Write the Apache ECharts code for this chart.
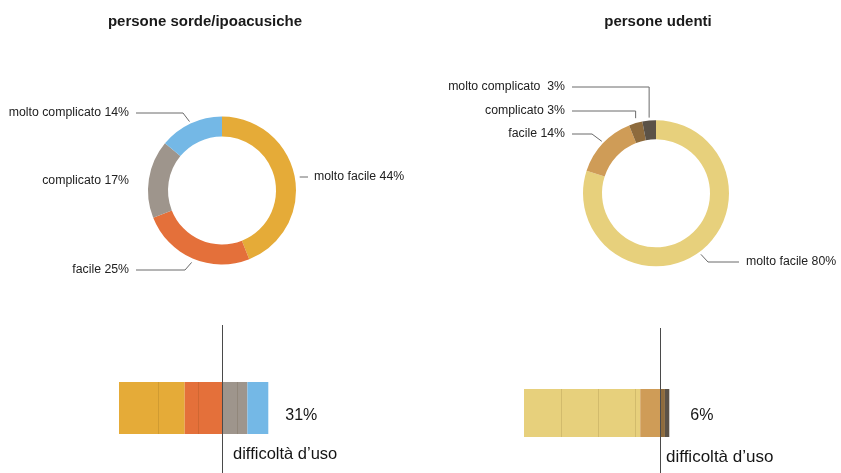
<!DOCTYPE html>
<html><head><meta charset="utf-8">
<script src="https://cdn.jsdelivr.net/npm/echarts@6/dist/echarts.min.js"></script>
<style>html,body{margin:0;padding:0;background:#fff}#c{width:841px;height:473px}</style>
</head><body><div id="c"></div>
<script>
// ---- data ----
const categories = ['molto facile', 'facile', 'complicato', 'molto complicato'];
const deafValues = [44, 25, 17, 14];
const hearingValues = [80, 14, 3, 3];
const deafLabels = ['molto facile 44%', 'facile 25%', 'complicato 17%', 'molto complicato 14%'];
const hearingLabels = ['molto facile 80%', 'facile 14%', 'complicato 3%', 'molto complicato  3%'];
const groupTitles = ['persone sorde/ipoacusiche', 'persone udenti'];
const difficultyLabel = 'difficoltà d’uso';
const deafGridInterval = 26.5;
const hearingGridInterval = 25.5;

// ---- styles ----
const FONT = "'Liberation Sans', Arial, sans-serif";
const deafColors = ['#E5AB38', '#E4703A', '#9E958C', '#74B8E6'];
const hearingColors = ['#E7D07C', '#CF9C57', '#8E6B3D', '#5B5247'];
const LINE_COLOR = '#6a6a6a';

// label placement (layout only)
const deafLabelLayout = [
  {x: 314, y: 177, align: 'left',  line: p => [[p[0] + 5, 177], [308, 177]]},
  {x: 129, y: 270, align: 'right', line: p => [[p[0] - 1, p[1] + 4], [185, 270], [136, 270]]},
  {x: 129, y: 181, align: 'right', line: null},
  {x: 129, y: 113, align: 'right', line: p => [[p[0] - 1, p[1] - 2], [183, 113], [136, 113]]}
];
const hearingLabelLayout = [
  {x: 746, y: 262, align: 'left',  line: p => [[p[0] + 2, p[1] + 2], [708, 262], [739, 262]]},
  {x: 565, y: 134, align: 'right', line: p => [[p[0] - 1, p[1] - 2], [592, 134], [572, 134]]},
  {x: 565, y: 111, align: 'right', line: p => [[p[0], p[1] - 5], [p[0], 111], [572, 111]]},
  {x: 565, y: 87,  align: 'right', line: p => [[p[0], p[1] - 3], [p[0], 87], [572, 87]]}
];

function pieSeries(values, labels, colors, center, radius, layoutSpec) {
  return {
    type: 'pie', center: center, radius: radius, startAngle: 90, clockwise: true,
    avoidLabelOverlap: false, silent: true, animation: false,
    emphasis: {disabled: true},
    itemStyle: {borderWidth: 0},
    label: {show: true, position: 'outside', fontSize: 12.3, color: '#222', fontFamily: FONT,
      formatter: p => labels[p.dataIndex]},
    labelLine: {show: true, length: 8, length2: 10, smooth: false,
      lineStyle: {color: LINE_COLOR, width: 1}},
    labelLayout: function (params) {
      const s = layoutSpec[params.dataIndex];
      const out = {x: s.x, y: s.y, align: s.align, verticalAlign: 'middle'};
      if (s.line && params.labelLinePoints) out.labelLinePoints = s.line(params.labelLinePoints[0]);
      return out;
    },
    data: values.map((v, i) => ({
      name: categories[i], value: v, itemStyle: {color: colors[i]},
      labelLine: {show: layoutSpec[i].line !== null}
    }))
  };
}

function barSeries(values, colors, axisIdx, stack, labelOffset, labelDist) {
  const difficulty = values[2] + values[3];
  return values.map((v, i) => ({
    type: 'bar', name: categories[i], stack: stack, xAxisIndex: axisIdx, yAxisIndex: axisIdx,
    barWidth: '100%', silent: true, animation: false,
    itemStyle: {color: colors[i], borderWidth: 0},
    label: i === values.length - 1 ? {
      show: true, position: 'right', distance: labelDist, offset: labelOffset,
      formatter: () => difficulty + '%', fontSize: 16, color: '#151515', fontFamily: FONT
    } : {show: false},
    data: [v]
  }));
}

function dividerSeries(values, axisIdx) {
  return {
    type: 'line', xAxisIndex: axisIdx, yAxisIndex: axisIdx, data: [], silent: true, animation: false,
    markLine: {symbol: 'none', silent: true, animation: false, label: {show: false},
      lineStyle: {color: '#4a4a4a', width: 1, type: 'solid'},
      emphasis: {disabled: true},
      data: [{xAxis: values[0] + values[1]}]}
  };
}

function barXAxis(gridIndex, interval) {
  return {
    gridIndex: gridIndex, type: 'value', min: 0, max: 100, interval: interval, z: 10,
    axisLine: {show: false}, axisTick: {show: false}, axisLabel: {show: false},
    splitLine: {show: true, showMinLine: false, showMaxLine: false,
      lineStyle: {color: 'rgba(60,40,0,0.12)', width: 1}}
  };
}

const chart = echarts.init(document.getElementById('c'), null, {renderer: 'canvas'});
chart.setOption({
  backgroundColor: '#ffffff',
  animation: false,
  textStyle: {fontFamily: FONT},
  title: [
    {text: groupTitles[0], left: 205, top: 14, padding: 0, textAlign: 'center',
      textStyle: {fontSize: 15, fontWeight: 'bold', color: '#1a1a1a', fontFamily: FONT}},
    {text: groupTitles[1], left: 658, top: 14, padding: 0, textAlign: 'center',
      textStyle: {fontSize: 15, fontWeight: 'bold', color: '#1a1a1a', fontFamily: FONT}},
    {text: difficultyLabel, left: 233, top: 446, padding: 0,
      textStyle: {fontSize: 16.5, fontWeight: 'normal', color: '#151515', fontFamily: FONT}},
    {text: difficultyLabel, left: 666, top: 448.5, padding: 0,
      textStyle: {fontSize: 17, fontWeight: 'normal', color: '#151515', fontFamily: FONT}}
  ],
  grid: [
    {left: 119, top: 382, width: 149.3, height: 52},
    {left: 524, top: 389, width: 145.3, height: 48},
    {left: 119, top: 325, width: 149.3, height: 160},
    {left: 524, top: 328, width: 145.3, height: 160}
  ],
  xAxis: [
    barXAxis(0, deafGridInterval),
    barXAxis(1, hearingGridInterval),
    {gridIndex: 2, type: 'value', min: 0, max: 100, show: false},
    {gridIndex: 3, type: 'value', min: 0, max: 100, show: false}
  ],
  yAxis: [
    {gridIndex: 0, type: 'category', data: ['deaf'], show: false},
    {gridIndex: 1, type: 'category', data: ['hearing'], show: false},
    {gridIndex: 2, type: 'value', min: 0, max: 1, show: false},
    {gridIndex: 3, type: 'value', min: 0, max: 1, show: false}
  ],
  series: [
    pieSeries(deafValues, deafLabels, deafColors, [222, 190.5], [54, 74], deafLabelLayout),
    pieSeries(hearingValues, hearingLabels, hearingColors, [656, 193.3], [54, 73], hearingLabelLayout),
    ...barSeries(deafValues, deafColors, 0, 'deaf', [0, 8], 17),
    ...barSeries(hearingValues, hearingColors, 1, 'hearing', [0, 3], 21),
    dividerSeries(deafValues, 2),
    dividerSeries(hearingValues, 3)
  ]
});
</script>
</body></html>
